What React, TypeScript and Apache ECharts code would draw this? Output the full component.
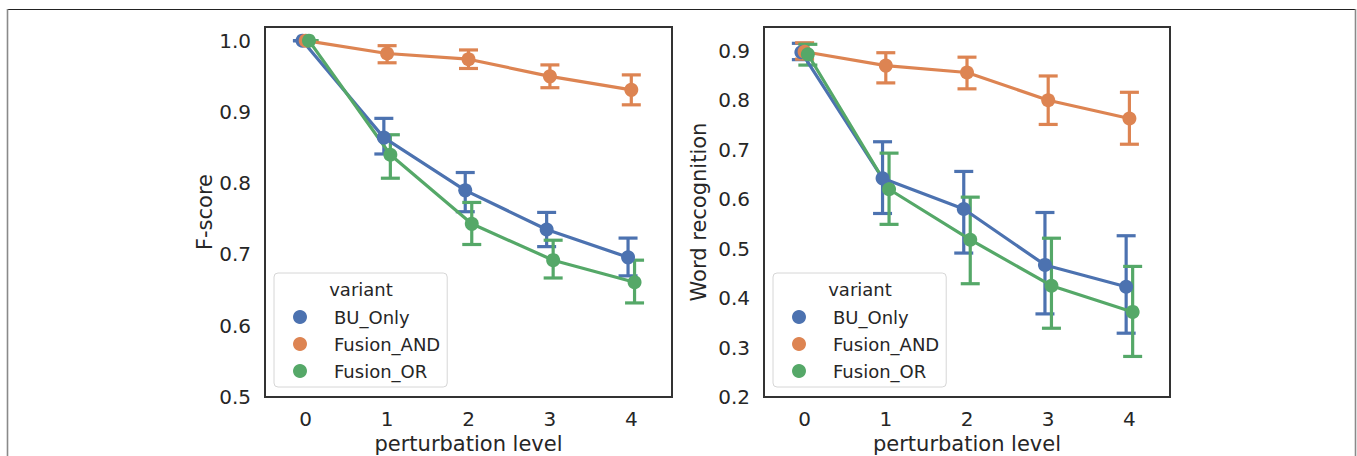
import React, { useEffect, useRef } from "react";
import * as echarts from "echarts";

const levels = [0, 1, 2, 3, 4];
const variants = ["BU_Only", "Fusion_AND", "Fusion_OR"];
const colors = ["#4C72B0", "#DD8452", "#55A868"];
const dodge = [-0.04, 0, 0.04];

// F-score (left panel)
const fBUMean = [1.0, 0.864, 0.79, 0.735, 0.696];
const fBULo = [1.0, 0.841, 0.76, 0.711, 0.67];
const fBUHi = [1.0, 0.891, 0.815, 0.759, 0.723];
const fANDMean = [1.0, 0.982, 0.974, 0.95, 0.931];
const fANDLo = [1.0, 0.969, 0.961, 0.934, 0.91];
const fANDHi = [1.0, 0.993, 0.987, 0.966, 0.952];
const fORMean = [1.0, 0.84, 0.743, 0.692, 0.661];
const fORLo = [1.0, 0.807, 0.714, 0.667, 0.632];
const fORHi = [1.0, 0.868, 0.773, 0.72, 0.692];

// Word recognition (right panel)
const wBUMean = [0.897, 0.642, 0.58, 0.467, 0.423];
const wBULo = [0.882, 0.571, 0.491, 0.368, 0.329];
const wBUHi = [0.915, 0.716, 0.656, 0.573, 0.526];
const wANDMean = [0.898, 0.87, 0.856, 0.8, 0.763];
const wANDLo = [0.883, 0.835, 0.823, 0.751, 0.711];
const wANDHi = [0.916, 0.896, 0.887, 0.849, 0.816];
const wORMean = [0.893, 0.62, 0.518, 0.425, 0.372];
const wORLo = [0.871, 0.549, 0.429, 0.339, 0.282];
const wORHi = [0.913, 0.693, 0.604, 0.521, 0.464];

const xTicks = ["0", "1", "2", "3", "4"];

const leftData = [
  { mean: fBUMean, lo: fBULo, hi: fBUHi },
  { mean: fANDMean, lo: fANDLo, hi: fANDHi },
  { mean: fORMean, lo: fORLo, hi: fORHi },
];
const rightData = [
  { mean: wBUMean, lo: wBULo, hi: wBUHi },
  { mean: wANDMean, lo: wANDLo, hi: wANDHi },
  { mean: wORMean, lo: wORLo, hi: wORHi },
];

const FONT = "DejaVu Sans";
const TXT = "#262626";

function buildSeries(panel: { mean: number[]; lo: number[]; hi: number[] }[], g: number) {
  const out: any[] = [];
  panel.forEach((d, i) => {
    const color = colors[i];
    out.push({
      type: "custom",
      name: variants[i] + "_ci_" + g,
      xAxisIndex: g,
      yAxisIndex: g,
      encode: { x: 0, y: [1, 2] },
      data: levels.map((l, k) => [l + dodge[i], d.lo[k], d.hi[k]]),
      renderItem: (params: any, api: any) => {
        const x = api.value(0);
        const a = api.coord([x, api.value(1)]);
        const b = api.coord([x, api.value(2)]);
        const hw = 9.5;
        const style = { stroke: color, lineWidth: 3.2 };
        return {
          type: "group",
          children: [
            { type: "line", shape: { x1: a[0], y1: a[1], x2: b[0], y2: b[1] }, style },
            { type: "line", shape: { x1: a[0] - hw, y1: a[1], x2: a[0] + hw, y2: a[1] }, style },
            { type: "line", shape: { x1: b[0] - hw, y1: b[1], x2: b[0] + hw, y2: b[1] }, style },
          ],
        };
      },
      silent: true,
    });
    out.push({
      type: "line",
      name: variants[i],
      xAxisIndex: g,
      yAxisIndex: g,
      data: levels.map((l, k) => [l + dodge[i], d.mean[k]]),
      symbol: "circle",
      symbolSize: 14,
      showSymbol: true,
      itemStyle: { color, borderWidth: 0 },
      lineStyle: { color, width: 3.2 },
      silent: true,
    });
  });
  return out;
}

function xAxisCfg(g: number) {
  return {
    type: "value",
    gridIndex: g,
    min: -0.5,
    max: 4.5,
    interval: 0.5,
    axisLine: { show: false },
    axisTick: { show: false },
    splitLine: { show: false },
    axisLabel: {
      fontSize: 20,
      color: TXT,
      fontFamily: FONT,
      margin: 12,
      formatter: (v: number) => {
        const r = Math.round(v);
        return Math.abs(v - r) < 1e-6 && r >= 0 && r < xTicks.length ? xTicks[r] : "";
      },
    },
    name: "perturbation level",
    nameLocation: "middle",
    nameGap: 35,
    nameTextStyle: { fontSize: 21, color: TXT, fontFamily: FONT },
  };
}

function yAxisCfg(g: number, min: number, max: number, name: string, gap: number) {
  return {
    type: "value",
    gridIndex: g,
    min,
    max,
    interval: 0.1,
    axisLine: { show: false },
    axisTick: { show: false },
    splitLine: { show: false },
    axisLabel: {
      fontSize: 20,
      color: TXT,
      fontFamily: FONT,
      margin: 14,
      formatter: (v: number) => {
        const r = Math.round(v * 10);
        return Math.abs(v * 10 - r) < 1e-6 ? (r / 10).toFixed(1) : "";
      },
    },
    name,
    nameLocation: "middle",
    nameGap: gap,
    nameTextStyle: { fontSize: 21, color: TXT, fontFamily: FONT },
  };
}

function legendCfg(left: number) {
  return {
    left,
    top: 273,
    orient: "vertical",
    selectedMode: false,
    itemWidth: 14,
    itemHeight: 14,
    itemGap: 9,
    padding: [35, 7, 7, 19],
    borderColor: "#d6d6d6",
    borderWidth: 1,
    borderRadius: 4,
    backgroundColor: "#ffffff",
    itemStyle: { borderWidth: 0 },
    textStyle: {
      fontSize: 18,
      lineHeight: 18,
      color: TXT,
      fontFamily: FONT,
      padding: [0, 0, 0, 22],
    },
    data: variants.map((v) => ({ name: v, icon: "circle" })),
  };
}

export default function App() {
  const ref = useRef<HTMLDivElement>(null);
  useEffect(() => {
    if (!ref.current) return;
    const chart = echarts.init(ref.current, undefined, { renderer: "svg" });
    chart.setOption({
      animation: false,
      backgroundColor: "#ffffff",
      textStyle: { fontFamily: FONT },
      grid: [
        { left: 265, top: 27, width: 407, height: 370, outerBoundsMode: "none", containLabel: false, show: true, borderColor: "#333333", borderWidth: 2, backgroundColor: "transparent" },
        { left: 764, top: 27, width: 406, height: 370, outerBoundsMode: "none", containLabel: false, show: true, borderColor: "#333333", borderWidth: 2, backgroundColor: "transparent" },
      ],
      xAxis: [xAxisCfg(0), xAxisCfg(1)],
      yAxis: [
        yAxisCfg(0, 0.5, 1.0192, "F-score", 50),
        yAxisCfg(1, 0.2, 0.948, "Word recognition", 55),
      ],
      legend: [legendCfg(274), legendCfg(773)],
      series: [...buildSeries(leftData, 0), ...buildSeries(rightData, 1)],
      graphic: [
        { type: "line", shape: { x1: 7, y1: 9.5, x2: 1356, y2: 9.5 }, style: { stroke: "#222222", lineWidth: 1.2 }, z: 100 },
        { type: "line", shape: { x1: 7.5, y1: 9, x2: 7.5, y2: 456 }, style: { stroke: "#8a8a8a", lineWidth: 1.6 }, z: 100 },
        { type: "line", shape: { x1: 1355.5, y1: 9, x2: 1355.5, y2: 456 }, style: { stroke: "#8a8a8a", lineWidth: 1.6 }, z: 100 },
        { type: "text", x: 361, y: 289, style: { text: "variant", fontSize: 18, fill: TXT, fontFamily: FONT, textAlign: "center", textVerticalAlign: "middle" }, z: 100 },
        { type: "text", x: 860, y: 289, style: { text: "variant", fontSize: 18, fill: TXT, fontFamily: FONT, textAlign: "center", textVerticalAlign: "middle" }, z: 100 },
      ],
    });
    return () => chart.dispose();
  }, []);
  return (
    <div
      ref={ref}
      style={{ position: "absolute", left: 0, top: 0, width: 1357, height: 456, background: "#fff" }}
    />
  );
}
